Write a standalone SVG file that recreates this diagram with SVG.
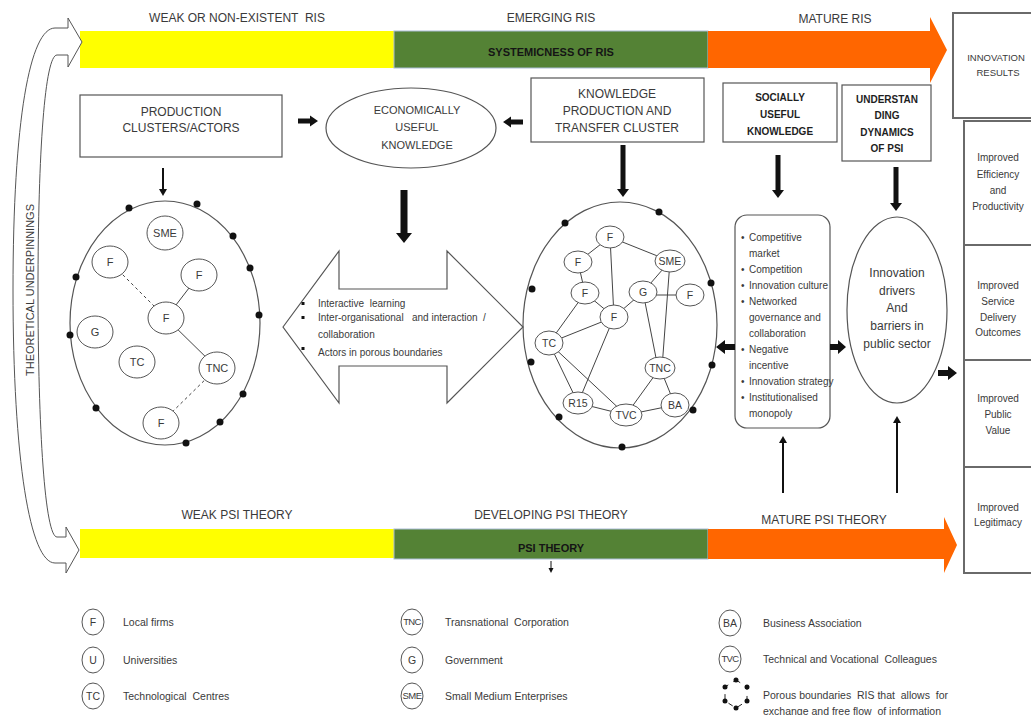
<svg xmlns="http://www.w3.org/2000/svg" width="1031" height="715" viewBox="0 0 1031 715">
  <style>
    text { font-family: "Liberation Sans", Arial, sans-serif; fill: #3a3a3a; white-space: pre; }
    .lbl { font-size: 12px; text-anchor: middle; }
    .bar { font-size: 11px; font-weight: bold; text-anchor: middle; fill: #151515; }
    .bx { font-size: 12px; text-anchor: middle; }
    .bb { font-size: 10px; font-weight: bold; text-anchor: middle; fill: #1e1e1e; }
    .sm { font-size: 10px; }
    .smc { font-size: 10px; text-anchor: middle; }
    .nd { font-size: 11px; text-anchor: middle; }
    .nd2 { font-size: 10.5px; text-anchor: middle; }
    .nd3 { font-size: 9.5px; text-anchor: middle; letter-spacing: -0.6px; }
    .leg { font-size: 10.5px; }
    .frame { fill: #fff; stroke: #555; stroke-width: 1.2; }
    .col { fill: #fff; stroke: #6a6a6a; stroke-width: 2; }
    .node { fill: #fff; stroke: #555; stroke-width: 1; }
    .edge { stroke: #444; stroke-width: 1; fill: none; }
    .dash { stroke-dasharray: 3 3; }
    .dot { fill: #111; }
    .blk { fill: #111; }
  </style>

  <!-- top band: systemicness of RIS -->
  <g id="ris-band">
    <rect x="80" y="31" width="314" height="37" fill="#ffff00"/>
    <rect x="394" y="31" width="314" height="37" fill="#548235" stroke="#a9bcd6" stroke-width="1"/>
    <polygon points="708,31 930,31 930,17 947,50 930,83 930,68 708,68" fill="#ff6600"/>
    <text class="lbl" x="237" y="22" xml:space="preserve">WEAK OR NON-EXISTENT  RIS</text>
    <text class="lbl" x="551" y="22">EMERGING RIS</text>
    <text class="lbl" x="835" y="23">MATURE RIS</text>
    <text class="bar" x="551" y="56">SYSTEMICNESS OF RIS</text>
  </g>

  <!-- bottom band: PSI theory -->
  <g id="psi-band">
    <rect x="80" y="529" width="314" height="29" fill="#ffff00"/>
    <rect x="394" y="529" width="314" height="30" fill="#548235" stroke="#a9bcd6" stroke-width="1"/>
    <polygon points="708,529 944,529 944,517 957,545 944,573 944,559 708,559" fill="#ff6600"/>
    <text class="lbl" x="237" y="519">WEAK PSI THEORY</text>
    <text class="lbl" x="551" y="519">DEVELOPING PSI THEORY</text>
    <text class="lbl" x="824" y="524">MATURE PSI THEORY</text>
    <text class="bar" x="551" y="552">PSI THEORY</text>
  </g>

  <!-- curved double arrow on the left -->
  <g id="theoretical-underpinnings">
    <path d="M68,28 L68,18 L82,42 L68,67 L68,55 L57,55 C45,55 38,150 38,290 C38,430 45,537 57,537 L66,537 L66,527 L79,550 L66,573 L66,563 L55,563 C30,563 13,460 13,290 C13,120 30,28 55,28 Z" fill="#fff" stroke="#555" stroke-width="1"/>
    <text class="lbl" transform="translate(30,290) rotate(-90)" y="4" style="font-size:11px">THEORETICAL UNDERPINNINGS</text>
  </g>

  <g id="production-clusters">
    <rect x="80" y="95" width="202" height="62" class="frame"/>
    <text class="bx" x="181" y="116">PRODUCTION</text>
    <text class="bx" x="181" y="132">CLUSTERS/ACTORS</text>
  </g>

  <g id="economically-useful-knowledge">
    <ellipse cx="411" cy="128" rx="85" ry="40" class="frame"/>
    <text class="bx" style="font-size:11px" x="417" y="114">ECONOMICALLY</text>
    <text class="bx" style="font-size:11px" x="417" y="131">USEFUL</text>
    <text class="bx" style="font-size:11px" x="417" y="149">KNOWLEDGE</text>
  </g>

  <g id="knowledge-production">
    <rect x="531" y="78" width="173" height="64" class="frame"/>
    <text class="bx" x="617" y="98">KNOWLEDGE</text>
    <text class="bx" x="617" y="115">PRODUCTION AND</text>
    <text class="bx" x="617" y="132">TRANSFER CLUSTER</text>
  </g>

  <g id="socially-useful-knowledge">
    <rect x="723" y="83" width="114" height="59" class="frame"/>
    <text class="bb" x="780" y="101">SOCIALLY</text>
    <text class="bb" x="780" y="118">USEFUL</text>
    <text class="bb" x="780" y="135">KNOWLEDGE</text>
  </g>

  <g id="understanding-psi">
    <rect x="842" y="85" width="89" height="76" class="frame"/>
    <text class="bb" x="887" y="103">UNDERSTAN</text>
    <text class="bb" x="887" y="119">DING</text>
    <text class="bb" x="887" y="136">DYNAMICS</text>
    <text class="bb" x="887" y="152">OF PSI</text>
  </g>

  <g id="innovation-results">
    <rect x="953" y="13" width="90" height="105" class="col"/>
    <text class="smc" style="font-size:9.5px" x="996" y="61">INNOVATION</text>
    <text class="smc" style="font-size:9.5px" x="998" y="76">RESULTS</text>
  </g>

  <g id="result-efficiency">
    <rect x="964" y="121" width="80" height="124" class="col"/>
    <text class="smc" x="998" y="161">Improved</text>
    <text class="smc" x="998" y="178">Efficiency</text>
    <text class="smc" x="998" y="194">and</text>
    <text class="smc" x="998" y="210">Productivity</text>
  </g>
  <g id="result-service">
    <rect x="964" y="245" width="80" height="115" class="col"/>
    <text class="smc" x="998" y="289">Improved</text>
    <text class="smc" x="998" y="305">Service</text>
    <text class="smc" x="998" y="321">Delivery</text>
    <text class="smc" x="998" y="336">Outcomes</text>
  </g>
  <g id="result-value">
    <rect x="964" y="360" width="80" height="107" class="col"/>
    <text class="smc" x="998" y="402">Improved</text>
    <text class="smc" x="998" y="418">Public</text>
    <text class="smc" x="998" y="434">Value</text>
  </g>
  <g id="result-legitimacy">
    <rect x="964" y="467" width="80" height="106" class="col"/>
    <text class="smc" x="998" y="511">Improved</text>
    <text class="smc" x="998" y="526">Legitimacy</text>
  </g>

  <!-- weak RIS cluster -->
  <g id="cluster-weak">
    <ellipse cx="165" cy="323" rx="95" ry="122" fill="none" stroke="#555" stroke-width="1.2"/>
    <g class="dot">
      <circle cx="129" cy="208" r="3.5"/><circle cx="197" cy="204" r="3.5"/>
      <circle cx="233" cy="236" r="3.5"/><circle cx="250" cy="268" r="3.5"/>
      <circle cx="259" cy="315" r="3.5"/><circle cx="243" cy="394" r="3.5"/>
      <circle cx="220" cy="422" r="3.5"/><circle cx="186" cy="443" r="3.5"/>
      <circle cx="96" cy="408" r="3.5"/><circle cx="70" cy="335" r="3.5"/>
      <circle cx="76" cy="277" r="3.5"/>
    </g>
    <line class="edge dash" x1="110" y1="262" x2="166" y2="318"/>
    <line class="edge" x1="166" y1="318" x2="199" y2="275"/>
    <line class="edge" x1="166" y1="318" x2="217" y2="368"/>
    <line class="edge dash" x1="217" y1="368" x2="161" y2="423"/>
    <ellipse class="node" cx="165" cy="233" rx="18" ry="17"/><text class="nd" x="165" y="237">SME</text>
    <ellipse class="node" cx="110" cy="262" rx="18" ry="16"/><text class="nd" x="110" y="266">F</text>
    <ellipse class="node" cx="199" cy="275" rx="18" ry="16"/><text class="nd" x="199" y="279">F</text>
    <ellipse class="node" cx="166" cy="318" rx="18" ry="16"/><text class="nd" x="166" y="322">F</text>
    <ellipse class="node" cx="95" cy="332" rx="18" ry="16"/><text class="nd" x="95" y="336">G</text>
    <ellipse class="node" cx="137" cy="362" rx="18" ry="16"/><text class="nd" x="137" y="366">TC</text>
    <ellipse class="node" cx="217" cy="368" rx="18" ry="16"/><text class="nd" x="217" y="372">TNC</text>
    <ellipse class="node" cx="161" cy="423" rx="18" ry="16"/><text class="nd" x="161" y="427">F</text>
  </g>

  <!-- interaction double arrow -->
  <g id="interaction">
    <polygon points="283,327 339,251 339,289 447,289 447,251 523,327 447,403 447,366 339,366 339,403" fill="#fff" stroke="#555" stroke-width="1.2"/>
    <g class="blk">
      <rect x="301.5" y="302" width="3" height="3"/>
      <rect x="301.5" y="316" width="3" height="3"/>
      <rect x="301.5" y="347" width="3" height="3"/>
    </g>
    <text class="sm" x="318" y="307" xml:space="preserve">Interactive  learning</text>
    <text class="sm" x="318" y="321" xml:space="preserve">Inter-organisational   and interaction  /</text>
    <text class="sm" x="318" y="338">collaboration</text>
    <text class="sm" x="318" y="356">Actors in porous boundaries</text>
  </g>

  <!-- mature RIS cluster -->
  <g id="cluster-mature">
    <ellipse cx="620" cy="325" rx="97" ry="123" fill="none" stroke="#555" stroke-width="1.2"/>
    <g class="dot">
      <circle cx="565" cy="223" r="3.5"/><circle cx="659" cy="212" r="3.5"/>
      <circle cx="711" cy="283" r="3.5"/><circle cx="712" cy="365" r="3.5"/>
      <circle cx="693" cy="410" r="3.5"/><circle cx="622" cy="447" r="3.5"/>
      <circle cx="559" cy="417" r="3.5"/><circle cx="531" cy="362" r="3.5"/>
      <circle cx="532" cy="289" r="3.5"/>
    </g>
    <g class="edge">
      <line x1="610" y1="237" x2="578" y2="262"/>
      <line x1="610" y1="237" x2="670" y2="261"/>
      <line x1="610" y1="237" x2="614" y2="317"/>
      <line x1="578" y1="262" x2="585" y2="293"/>
      <line x1="585" y1="293" x2="549" y2="343"/>
      <line x1="585" y1="293" x2="614" y2="317"/>
      <line x1="614" y1="317" x2="643" y2="292"/>
      <line x1="614" y1="317" x2="549" y2="343"/>
      <line x1="614" y1="317" x2="578" y2="403"/>
      <line x1="670" y1="261" x2="643" y2="292"/>
      <line x1="670" y1="261" x2="662" y2="368"/>
      <line x1="643" y1="295" x2="690" y2="295"/>
      <line x1="643" y1="292" x2="658" y2="368"/>
      <line x1="549" y1="343" x2="578" y2="403"/>
      <line x1="549" y1="343" x2="626" y2="415"/>
      <line x1="578" y1="403" x2="626" y2="415"/>
      <line x1="660" y1="368" x2="626" y2="415"/>
      <line x1="626" y1="415" x2="675" y2="405"/>
      <line x1="660" y1="368" x2="675" y2="405"/>
    </g>
    <ellipse class="node" cx="610" cy="237" rx="14" ry="11"/><text class="nd2" x="610" y="241">F</text>
    <ellipse class="node" cx="578" cy="262" rx="14" ry="11"/><text class="nd2" x="578" y="266">F</text>
    <ellipse class="node" cx="670" cy="261" rx="15" ry="11"/><text class="nd2" x="670" y="265">SME</text>
    <ellipse class="node" cx="585" cy="293" rx="14" ry="11"/><text class="nd2" x="585" y="297">F</text>
    <ellipse class="node" cx="643" cy="292" rx="14" ry="11"/><text class="nd2" x="643" y="296">G</text>
    <ellipse class="node" cx="690" cy="295" rx="14" ry="11"/><text class="nd2" x="690" y="299">F</text>
    <ellipse class="node" cx="614" cy="317" rx="14" ry="12"/><text class="nd2" x="614" y="321">F</text>
    <ellipse class="node" cx="549" cy="343" rx="14" ry="12"/><text class="nd2" x="549" y="347">TC</text>
    <ellipse class="node" cx="660" cy="368" rx="15" ry="11"/><text class="nd2" x="660" y="372">TNC</text>
    <ellipse class="node" cx="578" cy="403" rx="15" ry="11"/><text class="nd2" x="578" y="407">R15</text>
    <ellipse class="node" cx="626" cy="415" rx="16" ry="11"/><text class="nd2" x="626" y="419">TVC</text>
    <ellipse class="node" cx="675" cy="405" rx="14" ry="12"/><text class="nd2" x="675" y="409">BA</text>
  </g>

  <!-- innovation conditions list -->
  <g id="conditions">
    <rect x="735" y="215" width="95" height="213" rx="12" ry="12" class="frame"/>
    <g class="sm">
      <text x="741" y="241">•</text><text x="749" y="241">Competitive</text>
      <text x="749" y="257">market</text>
      <text x="741" y="273">•</text><text x="749" y="273">Competition</text>
      <text x="741" y="289">•</text><text x="749" y="289">Innovation culture</text>
      <text x="741" y="305">•</text><text x="749" y="305">Networked</text>
      <text x="749" y="321">governance and</text>
      <text x="749" y="337">collaboration</text>
      <text x="741" y="353">•</text><text x="749" y="353">Negative</text>
      <text x="749" y="369">incentive</text>
      <text x="741" y="385">•</text><text x="749" y="385">Innovation strategy</text>
      <text x="741" y="401">•</text><text x="749" y="401">Institutionalised</text>
      <text x="749" y="417">monopoly</text>
    </g>
  </g>

  <g id="drivers-barriers">
    <ellipse cx="897" cy="310" rx="50" ry="93" class="frame"/>
    <text class="bx" x="897" y="277">Innovation</text>
    <text class="bx" x="897" y="295">drivers</text>
    <text class="bx" x="897" y="312">And</text>
    <text class="bx" x="897" y="330">barriers in</text>
    <text class="bx" x="897" y="348">public sector</text>
  </g>

  <!-- connectors -->
  <g id="connectors" class="blk">
    <polygon points="298,118.5 310,118.5 310,115.5 318,121 310,126.5 310,123.5 298,123.5"/>
    <polygon points="523,119.5 511,119.5 511,116.5 503,122 511,127.5 511,124.5 523,124.5"/>
    <polygon points="400.5,190 407.5,190 407.5,233 412,233 404,243 396,233 400.5,233"/>
    <polygon points="620.5,145 625.5,145 625.5,189 629,189 623,197 617,189 620.5,189"/>
    <polygon points="775.5,155 780.5,155 780.5,190 784,190 778,198 772,190 775.5,190"/>
    <polygon points="893.5,167 898.5,167 898.5,203 902,203 896,211 890,203 893.5,203"/>
    <polygon points="735,344 725,344 725,340 716,347 725,354 725,350 735,350"/>
    <polygon points="830,344 838,344 838,340 846,347 838,354 838,350 830,350"/>
    <polygon points="938,370 948,370 948,366 957,373 948,380 948,376 938,376"/>
    <line x1="163" y1="168" x2="163" y2="190" stroke="#111" stroke-width="2"/>
    <polygon points="159,189 167,189 163,196"/>
    <line x1="783" y1="493" x2="783" y2="442" stroke="#111" stroke-width="2"/>
    <polygon points="779,443 787,443 783,436"/>
    <line x1="897" y1="493" x2="897" y2="422" stroke="#111" stroke-width="2"/>
    <polygon points="893,423 901,423 897,416"/>
    <line x1="551" y1="561" x2="551" y2="569" stroke="#111" stroke-width="1"/>
    <polygon points="548.5,568 553.5,568 551,573"/>
  </g>

  <!-- key -->
  <g id="legend">
    <g class="node">
      <ellipse cx="93" cy="622" rx="11" ry="13"/>
      <ellipse cx="93" cy="660" rx="11" ry="13"/>
      <ellipse cx="93" cy="696" rx="11" ry="13"/>
      <ellipse cx="412" cy="622" rx="11" ry="13"/>
      <ellipse cx="412" cy="660" rx="11" ry="13"/>
      <ellipse cx="412" cy="696" rx="11" ry="13"/>
      <ellipse cx="730" cy="623" rx="11" ry="13"/>
      <ellipse cx="730" cy="659" rx="11" ry="13"/>
    </g>
    <text class="nd2" x="93" y="626">F</text>
    <text class="nd2" x="93" y="664">U</text>
    <text class="nd2" x="93" y="700">TC</text>
    <text class="nd3" x="412" y="625">TNC</text>
    <text class="nd2" x="412" y="664">G</text>
    <text class="nd3" x="412" y="699">SME</text>
    <text class="nd2" x="730" y="627">BA</text>
    <text class="nd3" x="730" y="662">TVC</text>
    <polygon points="736,680 747,687 747,701 736,708 725,701 725,687" fill="none" stroke="#222" stroke-width="1" stroke-dasharray="5 6"/>
    <g class="dot">
      <circle cx="736" cy="680" r="2.5"/><circle cx="747" cy="687" r="2.5"/>
      <circle cx="747" cy="701" r="2.5"/><circle cx="736" cy="708" r="2.5"/>
      <circle cx="725" cy="701" r="2.5"/><circle cx="725" cy="687" r="2.5"/>
    </g>
    <text class="leg" x="123" y="626">Local firms</text>
    <text class="leg" x="123" y="664">Universities</text>
    <text class="leg" x="123" y="700" xml:space="preserve">Technological  Centres</text>
    <text class="leg" x="445" y="626" xml:space="preserve">Transnational  Corporation</text>
    <text class="leg" x="445" y="664">Government</text>
    <text class="leg" x="445" y="700">Small Medium Enterprises</text>
    <text class="leg" x="763" y="627">Business Association</text>
    <text class="leg" x="763" y="663" xml:space="preserve">Technical and Vocational  Colleagues</text>
    <text class="leg" x="763" y="699" xml:space="preserve">Porous boundaries  RIS that  allows  for</text>
    <text class="leg" x="763" y="715" xml:space="preserve">exchange and free flow  of information</text>
  </g>
</svg>
